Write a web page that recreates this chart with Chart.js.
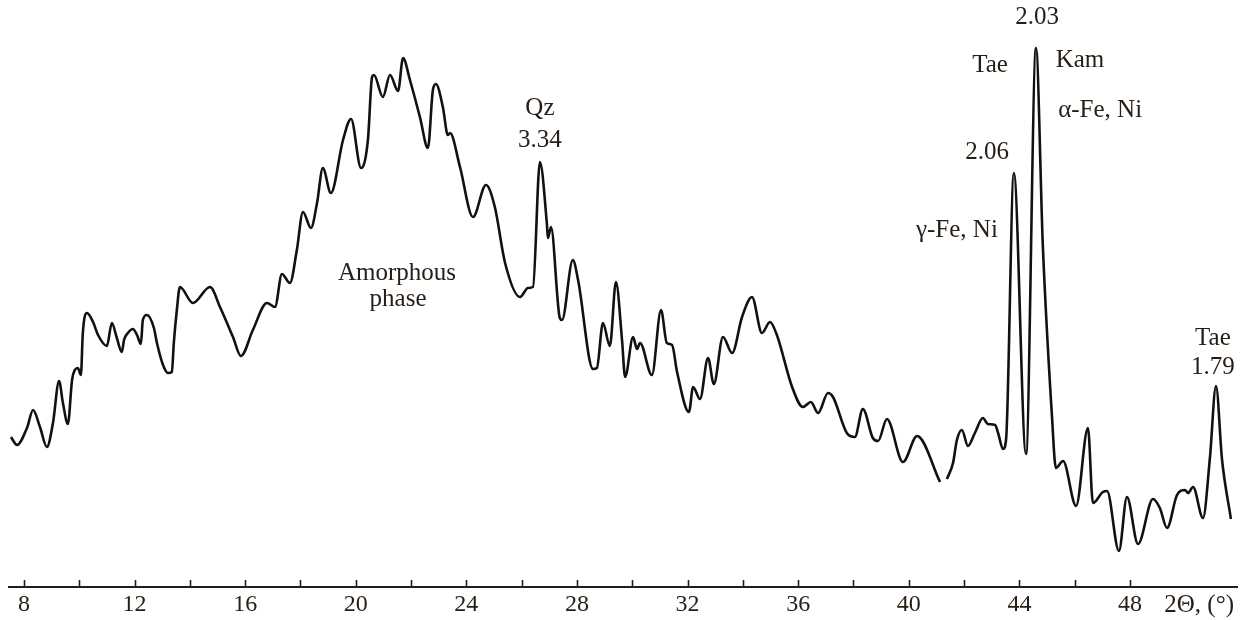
<!DOCTYPE html>
<html>
<head>
<meta charset="utf-8">
<title>X-ray diffraction pattern</title>
<script src="https://cdn.jsdelivr.net/npm/chart.js@4.4.1/dist/chart.umd.min.js"></script>
<style>
  html, body { margin: 0; padding: 0; background: #ffffff; }
  #wrap { width: 1246px; height: 620px; }
</style>
</head>
<body>
<div id="wrap"><canvas id="xrd" width="1246" height="620"></canvas></div>
<script>
// Diffraction angle 2θ (degrees); null intensity marks the short break in the trace
const twoTheta = [
  7.53, 7.75, 8.11, 8.33, 8.58, 8.83, 9.05, 9.27, 9.41, 9.59,
  9.74, 9.84, 9.95, 10.06, 10.13, 10.28, 10.50, 10.68, 11.00, 11.18,
  11.36, 11.54, 11.62, 11.76, 11.94, 12.09, 12.23, 12.30, 12.45, 12.70,
  12.81, 13.03, 13.21, 13.35, 13.42, 13.53, 13.64, 14.11, 14.73, 15.09,
  15.56, 15.85, 16.28, 16.79, 17.08, 17.33, 17.62, 17.87, 18.09, 18.38,
  18.60, 18.81, 19.10, 19.54, 19.83, 20.19, 20.44, 20.59, 20.66, 20.98,
  21.24, 21.53, 21.71, 21.96, 22.32, 22.61, 22.79, 22.90, 23.15, 23.33,
  23.41, 23.77, 24.24, 24.71, 25.03, 25.40, 25.94, 26.23, 26.41, 26.66,
  26.91, 26.95, 27.06, 27.38, 27.46, 27.85, 28.04, 28.58, 28.72, 28.94,
  29.19, 29.41, 29.63, 29.74, 30.03, 30.17, 30.28, 30.71, 31.04, 31.25,
  31.44, 31.62, 32.05, 32.20, 32.45, 32.74, 32.95, 33.28, 33.61, 33.97,
  34.33, 34.69, 34.98, 35.23, 35.78, 36.17, 36.46, 36.72, 37.08, 37.26,
  37.76, 38.05, 38.34, 38.70, 38.89, 39.21, 39.79, 40.30, 41.13, 41.26,
  41.38, 41.60, 41.74, 41.92, 42.14, 42.39, 42.68, 42.86, 43.12, 43.23,
  43.41, 43.52, 43.80, 44.24, 44.60, 44.85, 45.18, 45.32, 45.58, 46.05,
  46.48, 46.66, 47.02, 47.17, 47.60, 47.89, 48.29, 48.83, 49.08, 49.34,
  49.70, 49.99, 50.10, 50.28, 50.64, 50.89, 51.11, 51.33, 51.65
];

// Relative intensity (arbitrary units)
const intensity = [
  150, 142, 159, 177, 160, 140, 164, 206, 184, 163,
  207, 217, 219, 212, 254, 274, 265, 252, 241, 264,
  249, 235, 247, 254, 258, 252, 243, 267, 272, 259,
  244, 222, 214, 215, 244, 277, 300, 284, 300, 280,
  250, 231, 257, 284, 280, 313, 304, 337, 375, 359,
  384, 419, 394, 447, 468, 419, 447, 510, 512, 490,
  512, 496, 529, 507, 470, 439, 497, 503, 480, 452,
  454, 420, 370, 402, 380, 324, 290, 299, 300, 425,
  364, 349, 360, 269, 267, 327, 307, 218, 219, 264,
  241, 305, 247, 210, 250, 238, 244, 212, 277, 244,
  242, 215, 175, 200, 188, 229, 203, 250, 234, 270,
  290, 254, 265, 252, 200, 180, 185, 174, 194, 190,
  154, 150, 178, 149, 146, 168, 125, 151, 105, null,
  108, 124, 147, 157, 141, 154, 169, 163, 162, 154,
  138, 148, 414, 133, 539, 340, 170, 119, 126, 81,
  159, 84, 95, 96, 36, 90, 43, 88, 79, 59,
  92, 97, 94, 100, 69, 129, 201, 127, 68
];

// Axis tick positions and the subset that carries numbers
const tickValues = [8, 10, 12, 14, 16, 18, 20, 22, 24, 26, 28, 30, 32, 34, 36, 38, 40, 42, 44, 46, 48];
const labelledTicks = [8, 12, 16, 20, 24, 28, 32, 36, 40, 44, 48];
const axisTitle = '2\u0398, (\u00b0)';

// Phase and d-spacing annotations, placed in (2θ, intensity) coordinates
const annotations = [
  { text: 'Amorphous', x: 21.49, y: 314 },
  { text: 'phase', x: 21.53, y: 288 },
  { text: 'Qz', x: 26.66, y: 479 },
  { text: '3.34', x: 26.66, y: 447 },
  { text: '2.03', x: 44.64, y: 570 },
  { text: 'Tae', x: 42.94, y: 522 },
  { text: 'Kam', x: 46.19, y: 527 },
  { text: '\u03b1-Fe, Ni', x: 46.92, y: 477 },
  { text: '2.06', x: 42.83, y: 435 },
  { text: '\u03b3-Fe, Ni', x: 41.74, y: 357 },
  { text: 'Tae', x: 51.0, y: 249 },
  { text: '1.79', x: 51.0, y: 220 }
];

const INK = '#261d15';
const SERIF = '"Liberation Serif", "DejaVu Serif", serif';

const points = twoTheta.map((t, i) => ({ x: t, y: intensity[i] }));

// Upward tick marks, axis title and peak annotations
const decorations = {
  id: 'decorations',
  afterDraw(chart) {
    const { ctx, chartArea, scales } = chart;
    const xs = scales.x, ys = scales.y;
    ctx.save();
    ctx.strokeStyle = INK;
    ctx.lineWidth = 1.6;
    tickValues.forEach(v => {
      const px = Math.round(xs.getPixelForValue(v)) + 0.5;
      ctx.beginPath();
      ctx.moveTo(px, chartArea.bottom);
      ctx.lineTo(px, chartArea.bottom - 7);
      ctx.stroke();
    });
    ctx.fillStyle = INK;
    ctx.font = '25px ' + SERIF;
    ctx.textAlign = 'right';
    ctx.textBaseline = 'middle';
    ctx.fillText(axisTitle, chartArea.right - 3, chartArea.bottom + 18);
    ctx.textAlign = 'center';
    annotations.forEach(a => {
      ctx.fillText(a.text, xs.getPixelForValue(a.x), ys.getPixelForValue(a.y));
    });
    ctx.restore();
  }
};

new Chart(document.getElementById('xrd'), {
  type: 'line',
  data: {
    datasets: [{
      data: points,
      borderColor: '#111111',
      borderWidth: 2.6,
      pointRadius: 0,
      fill: false,
      spanGaps: false,
      cubicInterpolationMode: 'monotone'
    }]
  },
  options: {
    responsive: false,
    animation: false,
    devicePixelRatio: 1,
    layout: { padding: { left: 9, right: 9, top: 0, bottom: 0 } },
    plugins: { legend: { display: false }, tooltip: { enabled: false } },
    scales: {
      x: {
        type: 'linear',
        min: 7.46,
        max: 51.87,
        afterBuildTicks(scale) { scale.ticks = tickValues.map(v => ({ value: v })); },
        afterFit(scale) { scale.height = 33; },
        grid: { display: false, drawTicks: false },
        border: { display: true, color: INK, width: 2 },
        ticks: {
          autoSkip: false,
          maxRotation: 0,
          padding: 3,
          color: INK,
          font: { family: SERIF, size: 24 },
          callback: v => (labelledTicks.includes(v) ? String(v) : '')
        }
      },
      y: {
        display: false,
        min: 0,
        max: 587
      }
    }
  },
  plugins: [decorations]
});
</script>
</body>
</html>
